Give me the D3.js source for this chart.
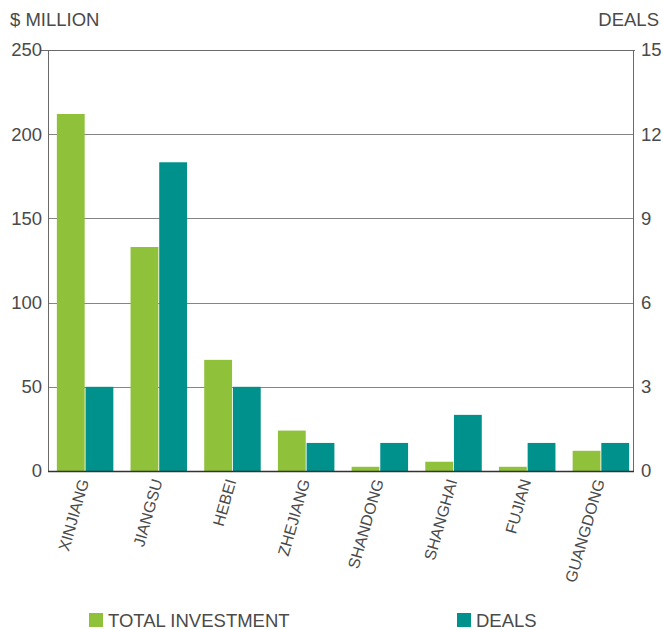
<!DOCTYPE html>
<html>
<head>
<meta charset="utf-8">
<script src="https://cdn.jsdelivr.net/npm/d3@7"></script>
<style>
  html, body { margin: 0; padding: 0; background: #ffffff; }
  svg { display: block; }
  text { font-family: "Liberation Sans", Arial, sans-serif; fill: #4a4a4a; }
</style>
</head>
<body>
<script>
// Provinces and the two measured series
const provinces = ["XINJIANG", "JIANGSU", "HEBEI", "ZHEJIANG", "SHANDONG", "SHANGHAI", "FUJIAN", "GUANGDONG"];
const totalInvestment = [212, 133, 66, 24, 2.5, 5.5, 2.5, 12];   // $ million
const deals = [3, 11, 3, 1, 1, 2, 1, 1];                          // number of deals
const leftTicks = [0, 50, 100, 150, 200, 250];
const rightTicks = [0, 3, 6, 9, 12, 15];
const seriesNames = ["TOTAL INVESTMENT", "DEALS"];
const seriesColors = ["#8fc13a", "#00918d"];

const W = 663, H = 630;
const plot = { left: 48, right: 633, top: 50, bottom: 471 };

const svg = d3.select("body").append("svg").attr("width", W).attr("height", H);

const yLeft = d3.scaleLinear().domain([0, 250]).range([plot.bottom, plot.top]);
const yRight = d3.scaleLinear().domain([0, 15]).range([plot.bottom, plot.top]);

const x0 = d3.scaleBand().domain(provinces).range([56, 630]).paddingInner(0.21).paddingOuter(0);
const x1 = d3.scaleBand().domain(seriesNames).range([0, x0.bandwidth()]).padding(0.03);

// Horizontal grid lines (shared between both scales)
svg.append("g")
  .selectAll("line")
  .data(leftTicks.slice(1, -1))
  .join("line")
  .attr("x1", plot.left).attr("x2", plot.right)
  .attr("y1", d => Math.round(yLeft(d)) + 0.5).attr("y2", d => Math.round(yLeft(d)) + 0.5)
  .attr("stroke", "#858585").attr("stroke-width", 1);

// Bars
const rows = provinces.map((p, i) => ({ p, vals: [
  { s: seriesNames[0], y: yLeft(totalInvestment[i]), c: seriesColors[0] },
  { s: seriesNames[1], y: yRight(deals[i]), c: seriesColors[1] }
]}));

svg.append("g")
  .selectAll("g")
  .data(rows)
  .join("g")
  .attr("transform", d => `translate(${x0(d.p)},0)`)
  .selectAll("rect")
  .data(d => d.vals)
  .join("rect")
  .attr("x", d => x1(d.s))
  .attr("width", x1.bandwidth())
  .attr("y", d => d.y)
  .attr("height", d => plot.bottom - d.y)
  .attr("fill", d => d.c);

// Frame: top, left, right and baseline
const frame = svg.append("g").attr("fill", "none");
frame.append("line").attr("x1", 40).attr("x2", plot.right + 2)
  .attr("y1", plot.top + 0.5).attr("y2", plot.top + 0.5).attr("stroke", "#6a6a6a");
frame.append("line").attr("x1", plot.left + 0.5).attr("x2", plot.left + 0.5)
  .attr("y1", plot.top).attr("y2", plot.bottom).attr("stroke", "#6a6a6a");
frame.append("line").attr("x1", plot.right + 0.5).attr("x2", plot.right + 0.5)
  .attr("y1", plot.top).attr("y2", plot.bottom).attr("stroke", "#6a6a6a");
frame.append("line").attr("x1", plot.left).attr("x2", plot.right + 1)
  .attr("y1", plot.bottom + 0.5).attr("y2", plot.bottom + 0.5).attr("stroke", "#333").attr("stroke-width", 1.5);

// Left axis labels
const leftAxis = d3.axisLeft(yLeft).tickValues(leftTicks).tickSize(0).tickPadding(0);
const gl = svg.append("g").attr("transform", `translate(${plot.left - 6},0)`).call(leftAxis);
gl.select(".domain").remove();
gl.selectAll("text").attr("font-size", 18.5).attr("fill", "#4a4a4a")
  .attr("font-family", "Liberation Sans, Arial, sans-serif");

// Right axis labels
const rightAxis = d3.axisRight(yRight).tickValues(rightTicks).tickSize(0).tickPadding(0);
const gr = svg.append("g").attr("transform", `translate(${plot.right + 8},0)`).call(rightAxis);
gr.select(".domain").remove();
gr.selectAll("text").attr("font-size", 18.5).attr("fill", "#4a4a4a")
  .attr("font-family", "Liberation Sans, Arial, sans-serif");

// Axis titles
svg.append("text").attr("x", 10).attr("y", 26).attr("font-size", 18.5).text("$ MILLION");
svg.append("text").attr("x", 659).attr("y", 26).attr("font-size", 18.5)
  .attr("text-anchor", "end").text("DEALS");

// Category labels, rotated
svg.append("g")
  .selectAll("text")
  .data(provinces)
  .join("text")
  .attr("font-size", 16)
  .attr("text-anchor", "end")
  .attr("transform", d => `translate(${x0(d) + x0.bandwidth() / 2 + 4},${481}) rotate(-74)`)
  .text(d => d);

// Legend
const legendX = [89, 457];
const lg = svg.append("g")
  .selectAll("g")
  .data(seriesNames)
  .join("g")
  .attr("transform", (d, i) => `translate(${legendX[i]},613)`);
lg.append("rect").attr("width", 14).attr("height", 14).attr("fill", (d, i) => seriesColors[i]);
lg.append("text").attr("x", 19).attr("y", 14).attr("font-size", 18.5).text(d => d);
</script>
</body>
</html>
